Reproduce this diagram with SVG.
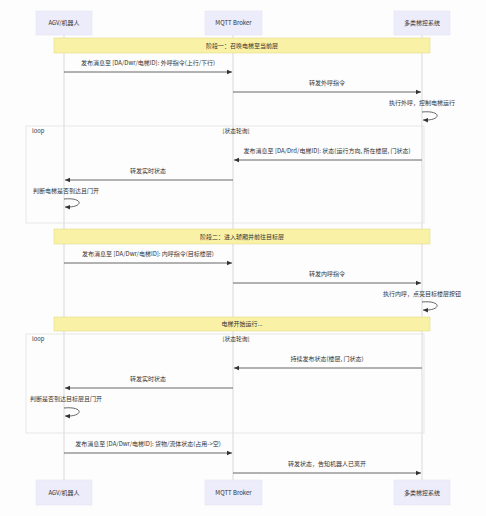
<svg xmlns="http://www.w3.org/2000/svg" width="486" height="516" viewBox="0 0 486 516">
<defs>
<marker id="ah" markerWidth="6" markerHeight="6" refX="5" refY="3" orient="auto" markerUnits="userSpaceOnUse">
<path d="M0,0.8 L5,3 L0,5.2 Z" fill="#333"/>
</marker>
<style>
text{font-family:"Noto Sans CJK SC","Noto Sans",sans-serif;fill:#333;}
.actor rect{fill:#ececfb;stroke:#e2e2f4;stroke-width:0.5;}
.actor text{font-size:6px;text-anchor:middle;}
.life{stroke:#cfcfcf;stroke-width:0.8;}
.note rect{fill:#f8f1a6;stroke:#e4dc8c;stroke-width:0.6;}
.note text{font-size:6px;text-anchor:middle;}
.msg{stroke:#555;stroke-width:0.9;fill:none;marker-end:url(#ah);}
.lbl{font-size:6px;text-anchor:middle;}
.lbl-s{font-size:6px;text-anchor:start;}
.loop rect{fill:none;stroke:#e2e2e2;stroke-width:0.8;}
.loop text{font-size:5.8px;}
</style>
</defs>
<rect width="486" height="516" fill="#fdfdfd"/>

<g id="lifelines">
<line class="life" x1="64" y1="35" x2="64" y2="481"/>
<line class="life" x1="233" y1="35" x2="233" y2="481"/>
<line class="life" x1="422" y1="35" x2="422" y2="481"/>
</g>

<g id="actor-agv-top" class="actor"><rect x="36" y="11" width="56" height="24"/><text x="64" y="25">AGV/机器人</text></g>
<g id="actor-mqtt-top" class="actor"><rect x="205" y="11" width="57" height="24"/><text x="233.5" y="25">MQTT Broker</text></g>
<g id="actor-sys-top" class="actor"><rect x="394" y="11" width="56" height="24"/><text x="422" y="25">多类梯控系统</text></g>

<g id="actor-agv-bottom" class="actor"><rect x="36" y="480" width="56" height="25"/><text x="64" y="494.5">AGV/机器人</text></g>
<g id="actor-mqtt-bottom" class="actor"><rect x="205" y="480" width="57" height="25"/><text x="233.5" y="494.5">MQTT Broker</text></g>
<g id="actor-sys-bottom" class="actor"><rect x="394" y="480" width="56" height="25"/><text x="422" y="494.5">多类梯控系统</text></g>

<g id="loop1" class="loop"><rect x="26" y="126" width="398" height="97"/><text x="32" y="133">loop</text><text x="236" y="133" text-anchor="middle">[状态轮询]</text></g>
<g id="loop2" class="loop"><rect x="26" y="334" width="398" height="99"/><text x="32" y="341">loop</text><text x="236" y="341" text-anchor="middle">[状态轮询]</text></g>

<g id="note1" class="note"><rect x="54" y="38" width="376" height="15"/><text x="242" y="47.5">阶段一：召唤电梯至当前层</text></g>
<g id="note2" class="note"><rect x="54" y="229" width="376" height="15"/><text x="242" y="238.5">阶段二：进入轿厢并前往目标层</text></g>
<g id="note3" class="note"><rect x="54" y="317" width="376" height="14"/><text x="242" y="326">电梯开始运行...</text></g>

<g id="connectors">
<line class="msg" x1="64" y1="72" x2="232" y2="72"/>
<line class="msg" x1="233" y1="92" x2="421" y2="92"/>
<path class="msg" d="M422,112 C442,110 442,121 423,120"/>
<line class="msg" x1="422" y1="160" x2="234" y2="160"/>
<line class="msg" x1="233" y1="180" x2="65" y2="180"/>
<path class="msg" d="M64,199 C84,197 84,208 65,207"/>
<line class="msg" x1="64" y1="263" x2="232" y2="263"/>
<line class="msg" x1="233" y1="283" x2="421" y2="283"/>
<path class="msg" d="M422,302 C442,300 442,311 423,310"/>
<line class="msg" x1="422" y1="368" x2="234" y2="368"/>
<line class="msg" x1="233" y1="388" x2="65" y2="388"/>
<path class="msg" d="M64,408 C84,406 84,417 65,416"/>
<line class="msg" x1="64" y1="453" x2="232" y2="453"/>
<line class="msg" x1="233" y1="473" x2="421" y2="473"/>
</g>

<g id="labels">
<text class="lbl" x="148" y="65">发布消息至 [DA/Dwr/电梯ID]: 外呼指令(上行/下行)</text>
<text class="lbl" x="327" y="85">转发外呼指令</text>
<text class="lbl" x="422" y="105">执行外呼，控制电梯运行</text>
<text class="lbl" x="327" y="153">发布消息至 [DA/Drd/电梯ID]: 状态(运行方向, 所在楼层, 门状态)</text>
<text class="lbl" x="148" y="173">转发实时状态</text>
<text class="lbl-s" x="33" y="193">判断电梯是否到达且门开</text>
<text class="lbl" x="148" y="256">发布消息至 [DA/Dwr/电梯ID]: 内呼指令(目标楼层)</text>
<text class="lbl" x="327" y="276">转发内呼指令</text>
<text class="lbl" x="422" y="296">执行内呼，点亮目标楼层按钮</text>
<text class="lbl" x="327" y="361">持续发布状态(楼层, 门状态)</text>
<text class="lbl" x="148" y="381">转发实时状态</text>
<text class="lbl-s" x="30" y="401">判断是否到达目标层且门开</text>
<text class="lbl" x="148" y="446">发布消息至 [DA/Dwr/电梯ID]: 货物/流体状态(占用-&gt;空)</text>
<text class="lbl" x="327" y="466">转发状态，告知机器人已离开</text>
</g>
</svg>
